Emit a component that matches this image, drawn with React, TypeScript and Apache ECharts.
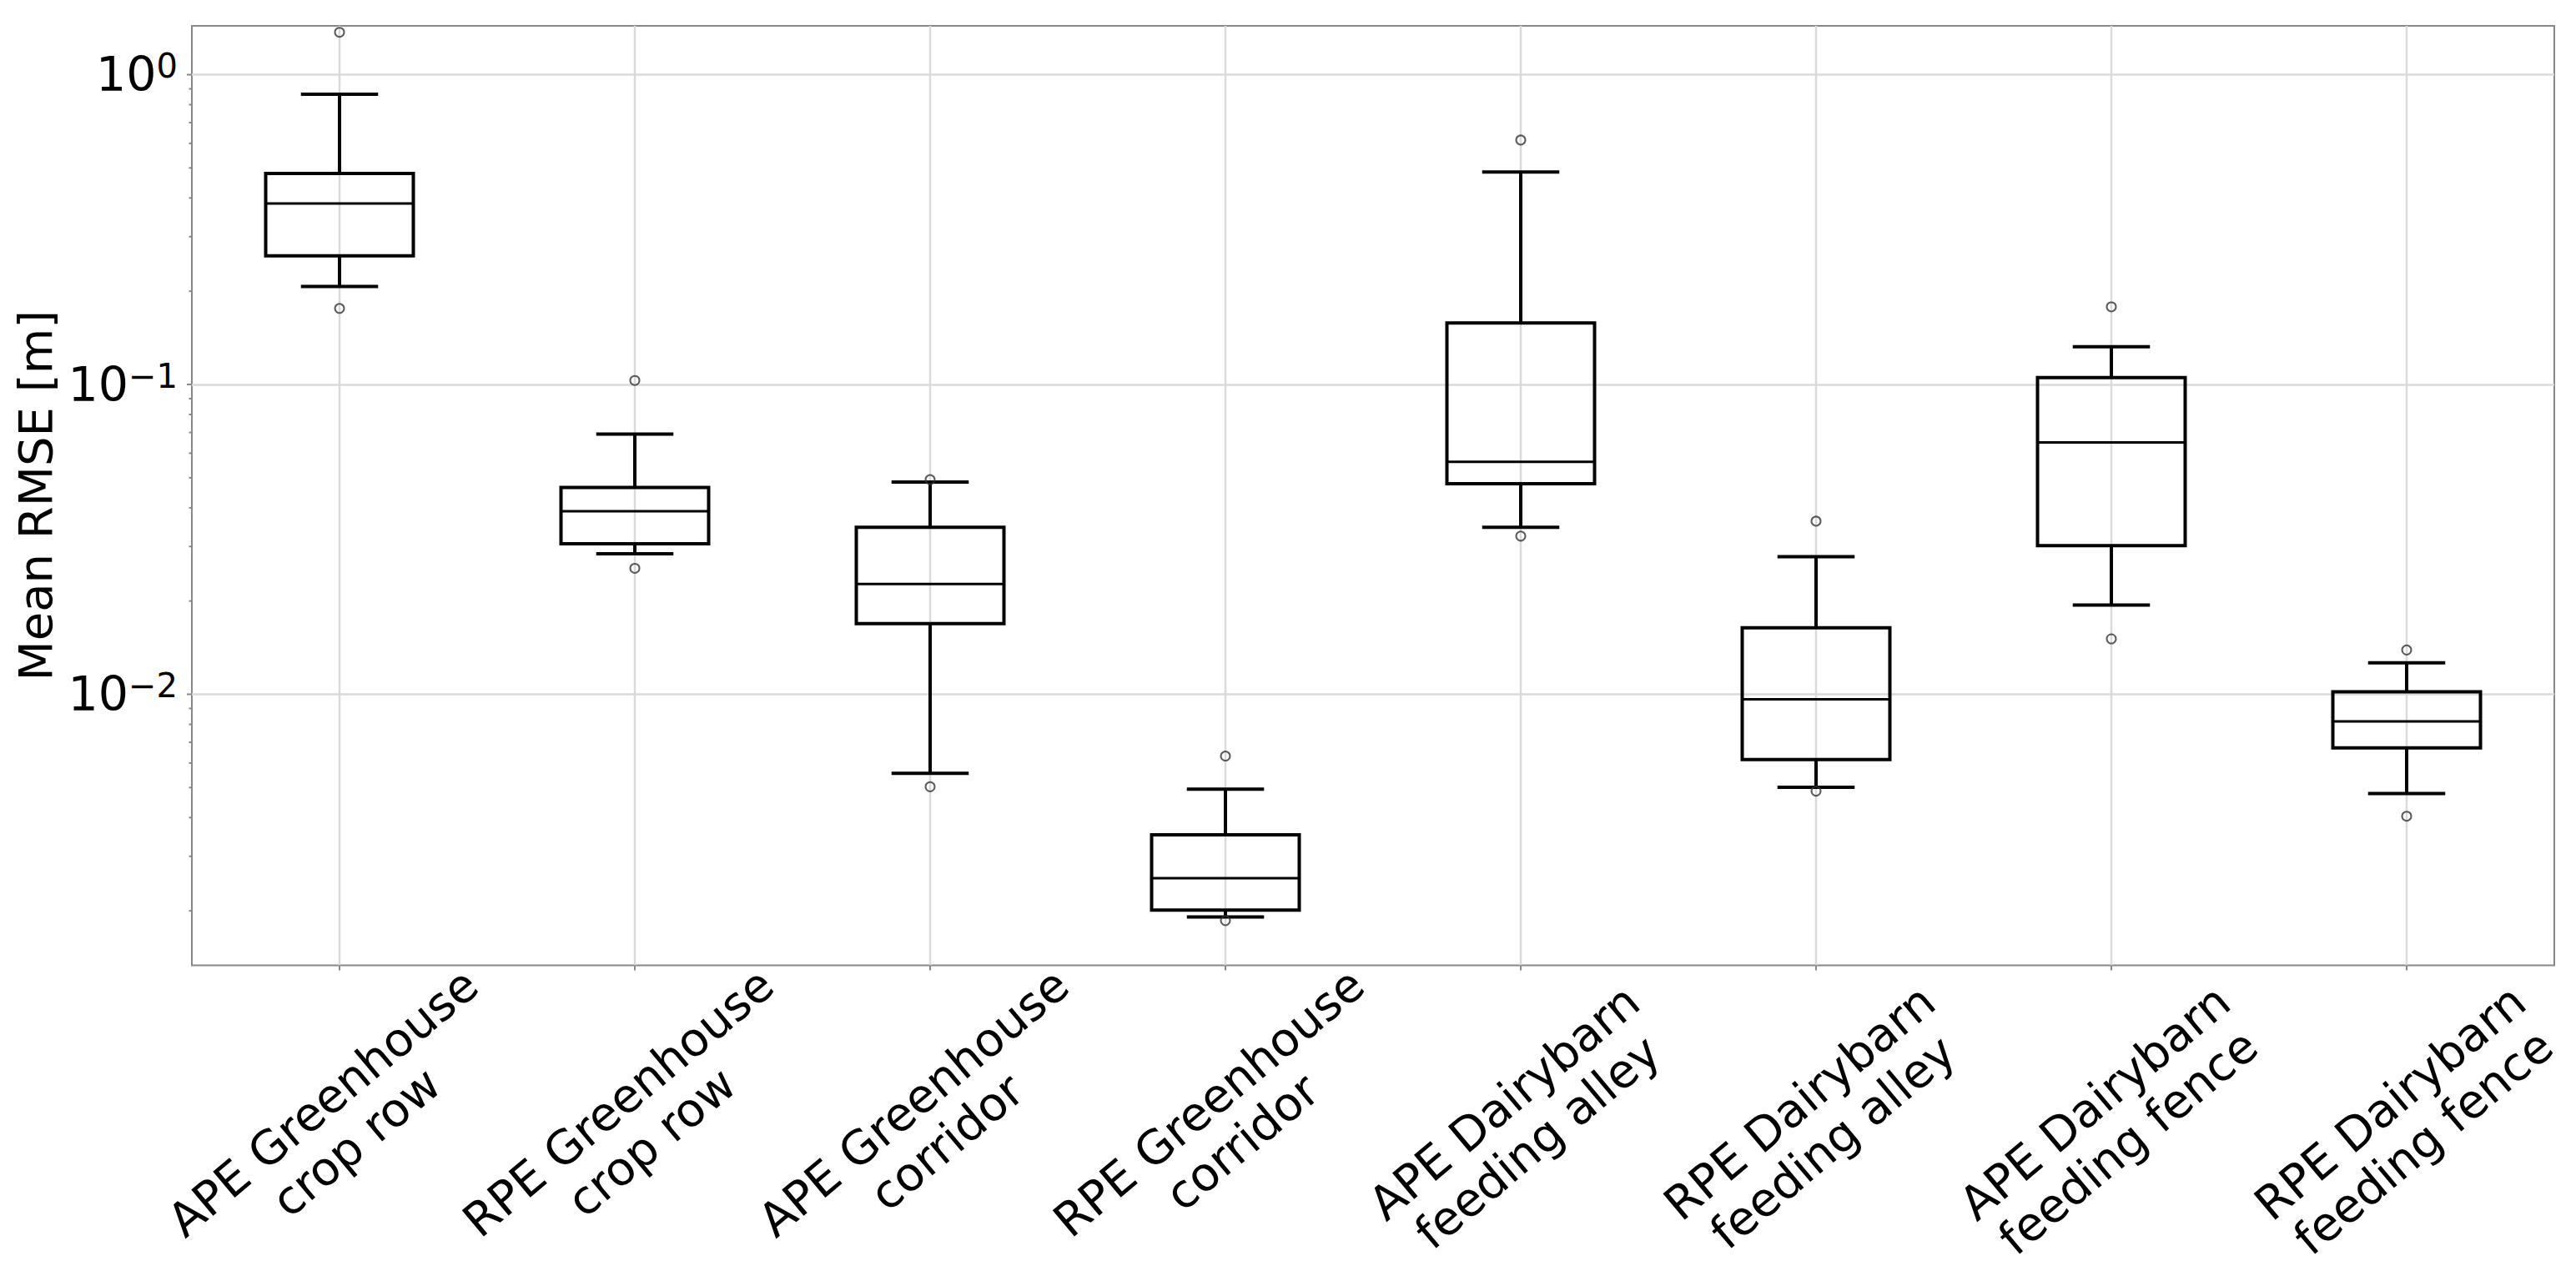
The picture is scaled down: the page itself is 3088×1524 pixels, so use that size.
import React, { useEffect, useRef } from 'react';
import * as echarts from 'echarts';

const categories = [
  'APE Greenhouse\ncrop row',
  'RPE Greenhouse\ncrop row',
  'APE Greenhouse\ncorridor',
  'RPE Greenhouse\ncorridor',
  'APE Dairybarn\nfeeding alley',
  'RPE Dairybarn\nfeeding alley',
  'APE Dairybarn\nfeeding fence',
  'RPE Dairybarn\nfeeding fence',
];
const whiskerLow = [0.207, 0.0284, 0.00556, 0.00191, 0.0346, 0.00501, 0.0194, 0.00478];
const q1 = [0.26, 0.0306, 0.0169, 0.00201, 0.0478, 0.00616, 0.0302, 0.00671];
const median = [0.384, 0.039, 0.0227, 0.00255, 0.0563, 0.00964, 0.065, 0.00817];
const q3 = [0.48, 0.0465, 0.0346, 0.00352, 0.158, 0.0164, 0.1053, 0.01018];
const whiskerHigh = [0.864, 0.0692, 0.0484, 0.00494, 0.485, 0.0278, 0.1324, 0.01263];
const outliers: [number, number][] = [
  [0, 1.37], [0, 0.176],
  [1, 0.103], [1, 0.0255],
  [2, 0.0493], [2, 0.00503],
  [3, 0.00632], [3, 0.00186],
  [4, 0.615], [4, 0.0324],
  [5, 0.0362], [5, 0.00487],
  [6, 0.178], [6, 0.0151],
  [7, 0.0139], [7, 0.00404],
];
const yMin = 0.001334;
const yMax = 1.437;
const majorTicks = [0.01, 0.1, 1];
const minorTicks = [
  0.002, 0.003, 0.004, 0.005, 0.006, 0.007, 0.008, 0.009,
  0.02, 0.03, 0.04, 0.05, 0.06, 0.07, 0.08, 0.09,
  0.2, 0.3, 0.4, 0.5, 0.6, 0.7, 0.8, 0.9,
];
const yTitle = 'Mean RMSE [m]';

const FONT = 'DejaVu Sans';

export default function App() {
  const ref = useRef<HTMLDivElement>(null);
  useEffect(() => {
    if (!ref.current) return;
    const chart = echarts.init(ref.current, null, { renderer: 'svg' });
    const boxData = categories.map((_, i) => [i, whiskerLow[i], q1[i], median[i], q3[i], whiskerHigh[i]]);
    const tickSeries = (vals: number[], len: number) => ({
      type: 'custom',
      clip: false,
      silent: true,
      z: 5,
      encode: { x: 0, y: 1 },
      data: vals.map((v) => [0, v]),
      renderItem: (params: any, api: any) => {
        const y = api.coord([0, api.value(1)])[1];
        const x0 = params.coordSys.x;
        return {
          type: 'line',
          shape: { x1: x0 - len, y1: y, x2: x0, y2: y },
          style: { stroke: '#888', lineWidth: 2 },
        };
      },
    });
    chart.setOption({
      animation: false,
      backgroundColor: '#fff',
      grid: {
        left: 230,
        right: 26,
        top: 31,
        bottom: 366.5,
        show: true,
        borderColor: '#888',
        borderWidth: 2,
        containLabel: false,
        outerBoundsMode: 'none',
      },
      xAxis: {
        type: 'category',
        data: categories,
        boundaryGap: true,
        axisLine: { show: false },
        axisTick: { show: true, alignWithLabel: true, length: 6, inside: false, lineStyle: { color: '#888', width: 2 } },
        splitLine: { show: false },
        axisLabel: {
          interval: 0,
          rotate: 40,
          align: 'center',
          verticalAlign: 'middle',
          margin: 188,
          fontSize: 56,
          lineHeight: 62,
          color: '#000',
          fontFamily: FONT,
        },
      },
      yAxis: {
        type: 'log',
        logBase: 10,
        min: yMin,
        max: yMax,
        axisLine: { show: false },
        axisTick: { show: false },
        minorTick: { show: false },
        splitLine: {
          show: true,
          showMinLine: false,
          showMaxLine: false,
          lineStyle: { color: '#dadada', width: 2.5 },
        },
        axisLabel: {
          showMinLabel: false,
          showMaxLabel: false,
          margin: 17,
          formatter: (v: number) => {
            const l = Math.log10(v);
            const e = Math.round(l);
            if (Math.abs(l - e) > 1e-6) return '';
            const s = e < 0 ? '\u2212' + -e : String(e);
            return `{b|10}{s|${s}}`;
          },
          rich: {
            b: { fontSize: 57, fontFamily: FONT, color: '#000', lineHeight: 60, verticalAlign: 'middle' },
            s: { fontSize: 40, fontFamily: FONT, color: '#000', lineHeight: 30, verticalAlign: 'top' },
          },
        },
        name: yTitle,
        nameLocation: 'middle',
        nameRotate: 90,
        nameGap: 157,
        nameTextStyle: { fontSize: 56, fontFamily: FONT, color: '#000' },
      },
      series: [
        {
          type: 'custom',
          silent: true,
          z: 0,
          encode: { x: 0, y: 1 },
          data: categories.map((_, i) => [i, 0.01]),
          renderItem: (params: any, api: any) => {
            const x = api.coord([api.value(0), 0.01])[0];
            const cs = params.coordSys;
            return {
              type: 'line',
              shape: { x1: x, y1: cs.y, x2: x, y2: cs.y + cs.height },
              style: { stroke: '#dadada', lineWidth: 2.5 },
            };
          },
        },
        {
          type: 'custom',
          silent: true,
          z: 2,
          encode: { x: 0, y: [1, 2, 3, 4, 5] },
          data: boxData,
          renderItem: (params: any, api: any) => {
            const i = api.value(0);
            const band = api.size([1, 0])[0];
            const bw = band * 0.5;
            const cw = band * 0.25;
            const pLow = api.coord([i, api.value(1)]);
            const pQ1 = api.coord([i, api.value(2)]);
            const pMed = api.coord([i, api.value(3)]);
            const pQ3 = api.coord([i, api.value(4)]);
            const pHigh = api.coord([i, api.value(5)]);
            const c = pMed[0];
            const st = { stroke: '#000', lineWidth: 4, fill: 'none' };
            return {
              type: 'group',
              children: [
                { type: 'line', shape: { x1: c, y1: pHigh[1], x2: c, y2: pQ3[1] }, style: st },
                { type: 'line', shape: { x1: c, y1: pQ1[1], x2: c, y2: pLow[1] }, style: st },
                { type: 'line', shape: { x1: c - cw / 2, y1: pHigh[1], x2: c + cw / 2, y2: pHigh[1] }, style: { ...st, lineCap: 'square' } },
                { type: 'line', shape: { x1: c - cw / 2, y1: pLow[1], x2: c + cw / 2, y2: pLow[1] }, style: { ...st, lineCap: 'square' } },
                { type: 'rect', shape: { x: c - bw / 2, y: pQ3[1], width: bw, height: pQ1[1] - pQ3[1] }, style: { ...st, lineJoin: 'miter' } },
                { type: 'line', shape: { x1: c - bw / 2, y1: pMed[1], x2: c + bw / 2, y2: pMed[1] }, style: { stroke: '#000', lineWidth: 3 } },
              ],
            };
          },
        },
        {
          type: 'scatter',
          silent: true,
          z: 3,
          symbol: 'circle',
          symbolSize: 11,
          data: outliers,
          itemStyle: { color: 'rgba(0,0,0,0)', borderColor: '#333', borderWidth: 2 },
        },
        tickSeries(majorTicks, 6),
        tickSeries(minorTicks, 3.5),
      ],
    });
    return () => chart.dispose();
  }, []);
  return (
    <div
      ref={ref}
      style={{ position: 'absolute', left: 0, top: 0, width: 3088, height: 1524, background: '#fff' }}
    />
  );
}
